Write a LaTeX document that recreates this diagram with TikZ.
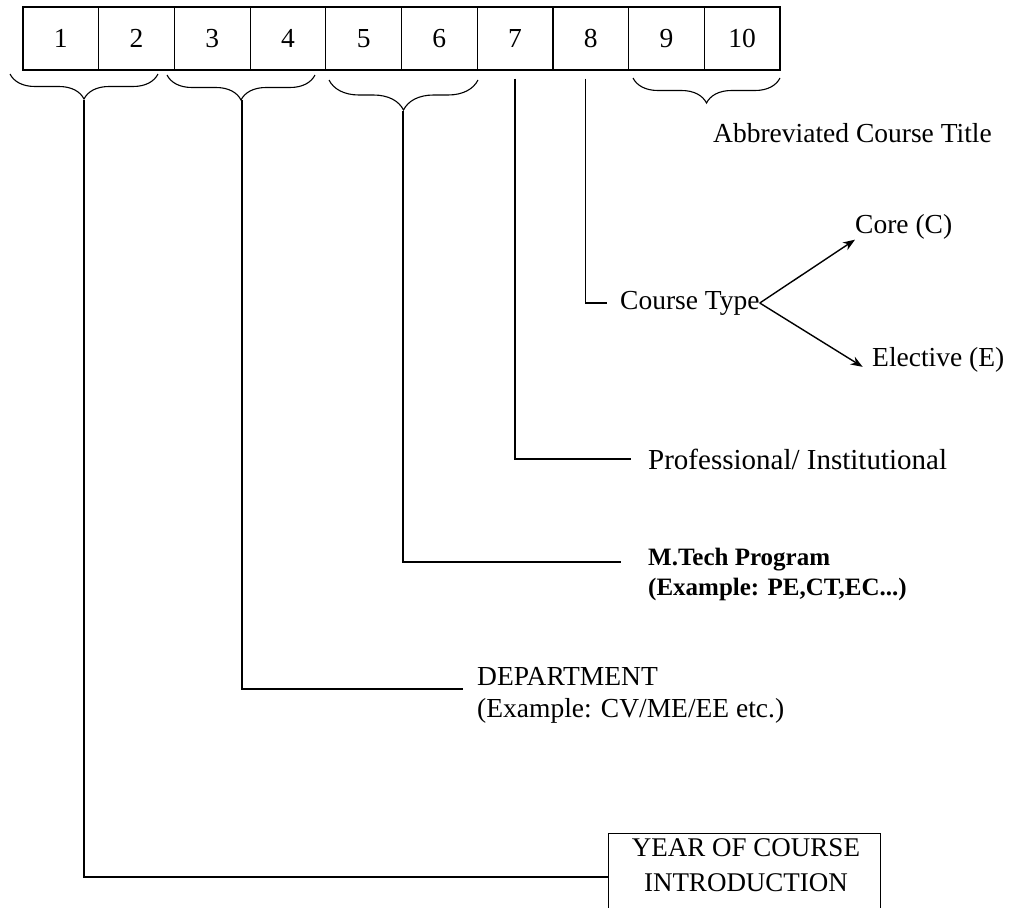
\documentclass[tikz,border=0pt]{standalone}
\usepackage{fontspec}
\setmainfont{Liberation Serif}
\usetikzlibrary{arrows.meta, positioning, calc, decorations.pathreplacing}

\begin{document}
\begin{tikzpicture}[x=1pt, y=-1pt,
    digit/.style={draw, line width=1.2pt, minimum width=75.7pt, minimum height=63pt, inner sep=0pt, font=\fontsize{27.5}{32}\selectfont},
    lbl/.style={anchor=west, inner sep=0pt, align=left, font=\fontsize{27.5}{32}\selectfont},
    brc/.style={decorate, decoration={brace, mirror, amplitude=#1}, line width=1.1pt},
    wire/.style={line width=1.2pt},
    arr/.style={-{Stealth[length=12pt, width=9pt]}, line width=1.4pt}
]
\useasboundingbox (0,0) rectangle (1010,908);

% the ten digit boxes
\foreach \i in {1,...,10}
    \node[digit] (d\i) at ({23+75.7*(\i-0.5)}, 38.5) {\i};

% braces under the pairs
\draw[brc=25pt] (10,74) -- (158,74);
\draw[brc=25pt] (167,75) -- (315,75);
\draw[brc=30pt] (329,80) -- (478,80);
\draw[brc=25pt] (633,78) -- (780,78);
\coordinate (t12) at (84,100);
\coordinate (t34) at (242,100);
\coordinate (t56) at (403,111);
\coordinate (t910) at (707,103);

% labels
\node[lbl] (abbr) at (713,133) {Abbreviated Course Title};
\node[lbl] (core) at (855,227) {Core (C)};
\node[lbl] (ctype) at (620,303) {Course Type};
\node[lbl] (elec) at (872,360) {Elective (E)};
\node[lbl, font=\fontsize{29}{34}\selectfont] (prof) at (648,459) {Professional/ Institutional};
\node[lbl, font=\fontsize{25}{30}\bfseries] (mtech) at (648,574) {M.Tech Program\\(Example: PE,CT,EC...)};
\node[lbl] (dept) at (477,695) {DEPARTMENT\\(Example: CV/ME/EE etc.)};
\node[draw, wire, anchor=north west, minimum width=272pt, minimum height=130pt] (yr) at (608,833) {};
\node[inner sep=0pt, align=center, anchor=north, font=\fontsize{27}{35}\selectfont] (yrtxt) at ($(yr.north west)+(746-608,5)$) {YEAR OF COURSE\\INTRODUCTION};

% connectors
\draw[wire] (t12) |- ($(yr.north west)+(0,44)$);
\draw[wire] (t34) |- ($(dept.west)+(-14,-6)$);
\draw[wire] (t56) |- ($(mtech.west)+(-27,-12)$);
\draw[wire] ([yshift=-8pt]d7.south) |- ($(prof.west)+(-17,0)$);
\draw[wire] ([xshift=-5pt,yshift=-8pt]d8.south) |- ($(ctype.west)+(-13,0)$);
\draw[arr] (ctype.east) -- (core.south west);
\draw[arr, shorten >=11pt] (ctype.east) -- (elec.south west);

\end{tikzpicture}
\end{document}
